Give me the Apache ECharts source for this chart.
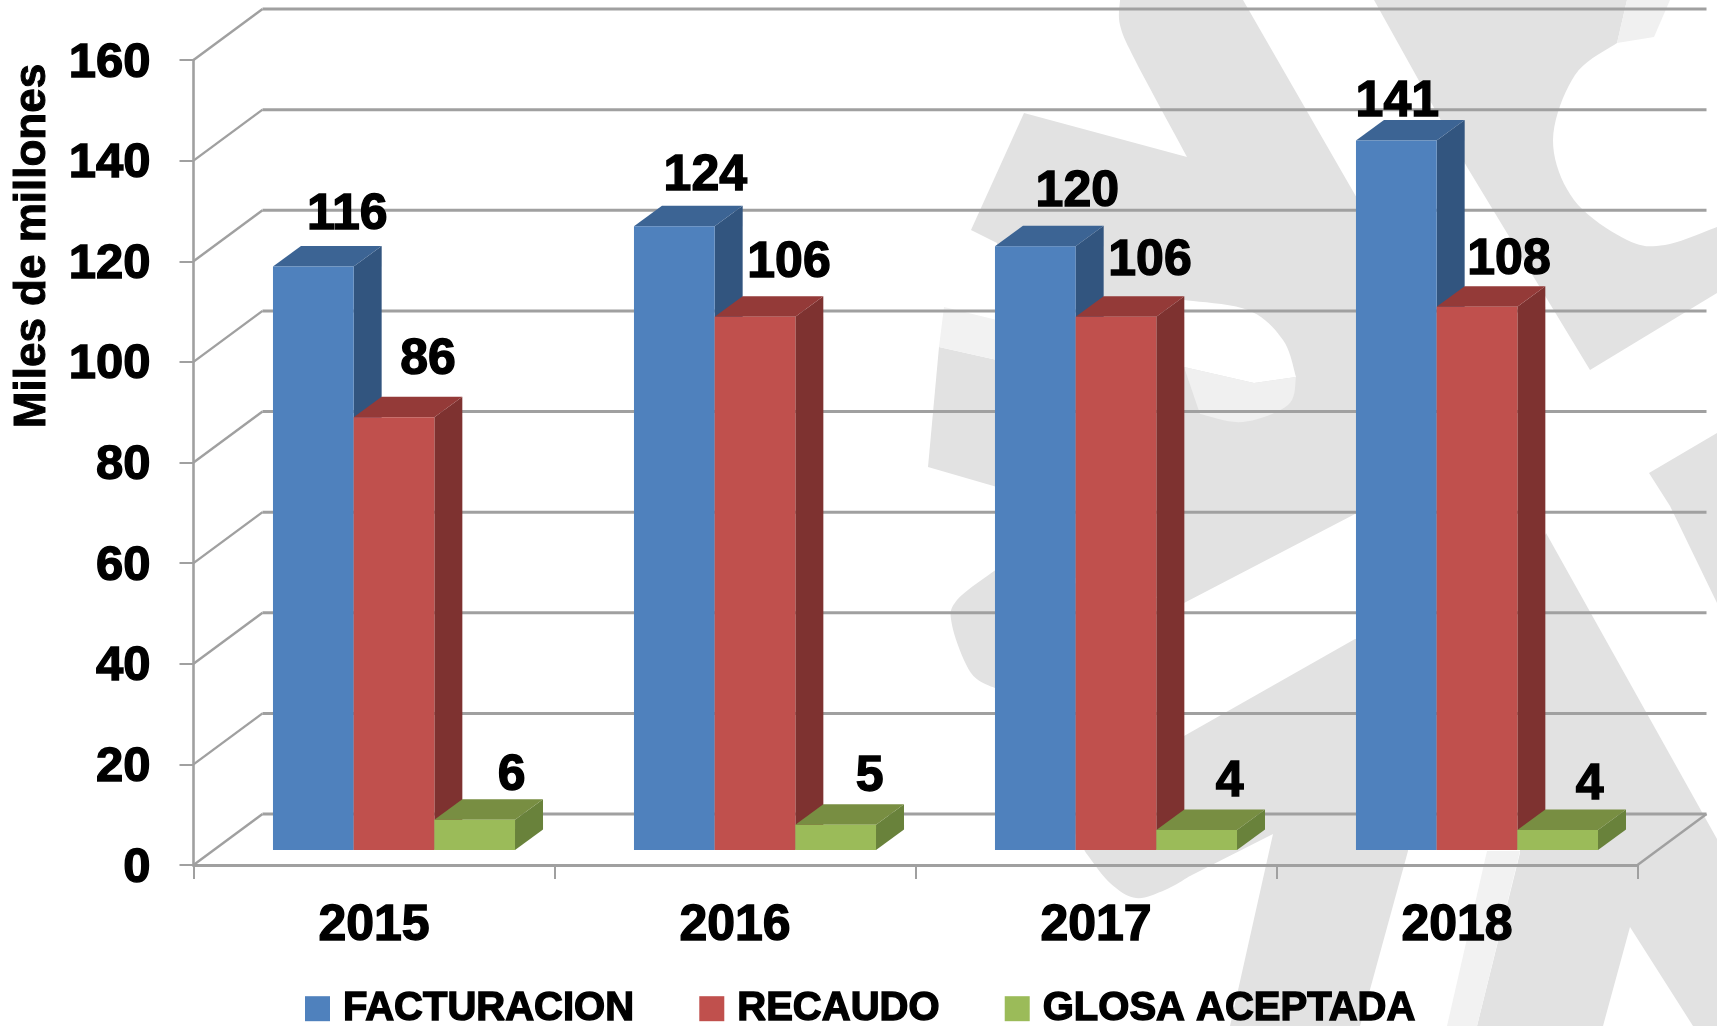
<!DOCTYPE html>
<html>
<head>
<meta charset="utf-8">
<style>html,body{margin:0;padding:0;background:#fff;overflow:hidden}#c{width:1717px;height:1026px}</style>
<script src="https://cdn.jsdelivr.net/npm/echarts@6/dist/echarts.min.js"></script>
</head>
<body>
<div id="c"></div>
<script>
const categories = ['2015', '2016', '2017', '2018'];
const facturacion = [116, 124, 120, 141];
const recaudo = [86, 106, 106, 108];
const glosa = [6, 5, 4, 4];
const gridValues = [0, 20, 40, 60, 80, 100, 120, 140, 160];
const seriesNames = ['FACTURACION', 'RECAUDO', 'GLOSA ACEPTADA'];

// label nudges from the bar top-centre, per series then per category
const labelNudge = [
  [[34, -51.5], [31, -49.5], [42, -54], [1, -38]],
  [[34, -57], [34, -53], [34, -55], [32, -46.5]],
  [[37, -43.5], [34, -47.5], [33, -47.5], [32, -45]]
];
const faces = [
  { front: '#4F81BD', top: '#3C6494', side: '#32557F' },
  { front: '#C0504D', top: '#943A38', side: '#7E3230' },
  { front: '#9BBB59', top: '#788E42', side: '#69823B' }
];
const FONT = '"Liberation Sans", Arial, sans-serif';
const WALL = { dx: 69, dy: 51 }, FLOOR = { dx: 20, dy: 15 }, BAR = { dx: 28, dy: 20.5 };
const LINE = '#A0A0A0';

// Catmull-Rom resampling for the curved outlines of the background logo
function curve(p) {
  const out = [];
  for (let i = 0; i < p.length - 1; i++) {
    const a = p[Math.max(i - 1, 0)], b = p[i], c = p[i + 1], d = p[Math.min(i + 2, p.length - 1)];
    for (let k = 0; k < 10; k++) {
      const t = k / 10, t2 = t * t, t3 = t2 * t;
      out.push([0, 1].map(j => 0.5 * (2 * b[j] + (c[j] - a[j]) * t + (2 * a[j] - 5 * b[j] + 4 * c[j] - d[j]) * t2 + (3 * b[j] - a[j] - 3 * c[j] + d[j]) * t3)));
    }
  }
  out.push(p[p.length - 1]);
  return out;
}
function poly(points, fill, z) {
  return { type: 'polygon', shape: { points }, style: { fill: fill || '#E2E2E2' }, z: z || -3, silent: true };
}
const wm = [
  poly([[1243,0],[1400,273],[1400,520],[1355,514],[1184,603],[997,560],[997,243],[971,230],[1024,113],[1187,157]].concat(curve([[1187,157],[1135,60],[1120,25],[1120,0]]))),
  poly([[939,347],[997,360],[997,487],[928,467]]),
  poly([[944,307],[997,320],[997,360],[939,347]], '#F2F2F2'),
  poly(curve([[1184,300],[1248,310],[1283,340],[1296,377]]).concat([[1254,383],[1184,367]]), '#FFFFFF', -2),
  poly([[1184,367],[1254,383],[1296,377]].concat(curve([[1296,377],[1288,405],[1243,422],[1200,414]])), '#F0F0F0', -2),
  poly([[1184,603],[1184,736],[1355,639],[1400,639],[1408,851],[1360,1026],[1230,1026],[1273,834]]
    .concat(curve([[1190,876],[1165,890],[1136,898],[1110,883],[1086,853]]), [[1000,700]],
      curve([[997,689],[971,673],[952,625],[957,600],[997,569]]))),
  poly([[1546,533],[1717,839],[1717,1026],[1693,1026],[1630,927],[1603,1026],[1477,1026],[1520,853],[1520,600]]),
  poly([[1487,851],[1520,851],[1477,1026],[1447,1026]], '#F2F2F2'),
  poly([[1374,0],[1627,0]].concat(curve([[1617,43],[1575,75],[1553,140],[1574,200],[1627,240],[1665,245],[1717,227]]), [[1717,293],[1590,370],[1467,167]])),
  poly([[1627,0],[1670,0],[1654,37],[1617,43]], '#F0F0F0'),
  poly([[1649,473],[1717,433],[1717,603],[1670,506]])
];

function renderWall(params, api) {
  const cs = params.coordSys;
  const val = api.value(1);
  const y = api.coord([0, val])[1];
  const x0 = cs.x, x1 = cs.x + cs.width;
  const bx0 = x0 + WALL.dx, bx1 = x1 + WALL.dx, by = y - WALL.dy;
  const children = [
    { type: 'line', shape: { x1: x0, y1: y, x2: bx0, y2: by }, style: { stroke: LINE, lineWidth: 2.4 } },
    { type: 'line', shape: { x1: bx0, y1: by, x2: bx1, y2: by }, style: { stroke: LINE, lineWidth: 3 } }
  ];
  if (val === 0) children.push({ type: 'line', shape: { x1: bx1, y1: by, x2: x1, y2: y }, style: { stroke: LINE, lineWidth: 2.4 } });
  return { type: 'group', children };
}

function renderBar(si) {
  return function (params, api) {
    const cat = api.value(0), val = api.value(1);
    const base = api.coord([cat, 0]), top = api.coord([cat, val]);
    const band = api.size([1, 0])[0];
    const w = band * 0.2235;
    const xL = base[0] + FLOOR.dx - 1.5 * w + si * w, xR = xL + w;
    const yB = base[1] - FLOOR.dy, yT = top[1] - FLOOR.dy;
    const f = faces[si], n = labelNudge[si][cat];
    return { type: 'group', children: [
      { type: 'polygon', shape: { points: [[xR, yB], [xR + BAR.dx, yB - BAR.dy], [xR + BAR.dx, yT - BAR.dy], [xR, yT]] }, style: { fill: f.side } },
      { type: 'polygon', shape: { points: [[xL, yT], [xR, yT], [xR + BAR.dx, yT - BAR.dy], [xL + BAR.dx, yT - BAR.dy]] }, style: { fill: f.top } },
      { type: 'rect', shape: { x: xL, y: yT, width: w, height: yB - yT }, style: { fill: f.front } },
      { type: 'text', z2: 50, style: { x: (xL + xR) / 2 + n[0], y: yT + n[1], text: String(val), align: 'center', verticalAlign: 'middle',
        font: 'bold 50px ' + FONT, fill: '#000', stroke: '#000', lineWidth: 1.4 } }
    ] };
  };
}

function barSeries(name, values, si) {
  return { name, type: 'custom', z: 3 + si, clip: false, renderItem: renderBar(si), itemStyle: { color: faces[si].front },
    encode: { x: 0, y: 1 }, data: values.map((v, i) => [i, v]) };
}

const heavy = { fontFamily: FONT, fontWeight: 'bold', color: '#000', textBorderColor: '#000', textBorderWidth: 1.4 };
const chart = echarts.init(document.getElementById('c'), null, { renderer: 'canvas' });
chart.setOption({
  animation: false,
  backgroundColor: '#fff',
  grid: { left: 193.5, top: 60, width: 1444, height: 805, containLabel: false },
  legend: {
    left: 300, top: 983, itemWidth: 25, itemHeight: 25, itemGap: 64.5, icon: 'rect',
    data: seriesNames,
    textStyle: Object.assign({}, heavy, { fontSize: 40, padding: [0, 0, 0, 8] })
  },
  xAxis: {
    type: 'category', data: categories,
    axisLine: { lineStyle: { color: LINE, width: 3 } },
    axisTick: { show: true, alignWithLabel: false, length: 14, lineStyle: { color: LINE, width: 2 } },
    axisLabel: Object.assign({}, heavy, { margin: 36, fontSize: 50 }),
    splitLine: { show: false }
  },
  yAxis: {
    type: 'value', min: 0, max: 160, interval: 20,
    axisLine: { show: true, lineStyle: { color: LINE, width: 2.6 } },
    axisTick: { show: true, length: 14, lineStyle: { color: LINE, width: 2 } },
    axisLabel: Object.assign({}, heavy, { margin: 43, fontSize: 49, verticalAlign: 'top', lineHeight: 6 }),
    splitLine: { show: false }
  },
  graphic: { elements: wm.concat([
    { type: 'text', z: 20, x: 33, y: 246, rotation: Math.PI / 2,
      style: { text: 'Miles de millones', font: 'bold 44px ' + FONT, fill: '#000', stroke: '#000', lineWidth: 1, align: 'center', verticalAlign: 'middle' } }
  ]) },
  series: [
    { name: 'paredes', type: 'custom', z: 2, clip: false, renderItem: renderWall, silent: true,
      encode: { x: 0, y: 1 }, data: gridValues.map(v => [0, v]) },
    barSeries(seriesNames[0], facturacion, 0),
    barSeries(seriesNames[1], recaudo, 1),
    barSeries(seriesNames[2], glosa, 2)
  ]
});
</script>
</body>
</html>
